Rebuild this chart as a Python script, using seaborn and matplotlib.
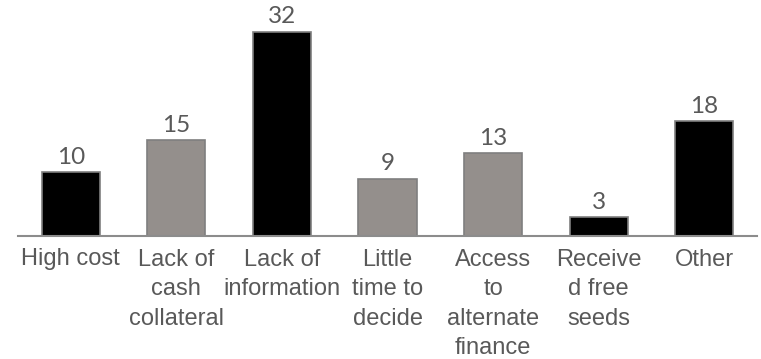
import matplotlib.pyplot as plt
import seaborn as sns
import pandas as pd

sns.set_theme(style="white")
plt.rcParams["font.family"] = ["Liberation Sans", "DejaVu Sans"]

# Chart data
categories = ["High cost", "Lack of\ncash\ncollateral", "Lack of\ninformation", "Little\ntime to\ndecide",
              "Access\nto\nalternate\nfinance", "Receive\nd free\nseeds", "Other"]
values = [10, 15, 32, 9, 13, 3, 18]
bar_colors = ["#000000", "#948f8c", "#000000", "#948f8c", "#948f8c", "#000000", "#000000"]

df = pd.DataFrame({"Reason": categories, "Count": values})

fig = plt.figure(figsize=(7.61, 3.59), dpi=100)
ax = fig.add_axes([18 / 761, 123 / 359, 739 / 761, 230 / 359])

sns.barplot(df, x="Reason", y="Count", hue="Reason", palette=bar_colors, legend=False,
            width=0.55, edgecolor="#7f7f7f", linewidth=1.2, saturation=1, ax=ax)

# Value labels above bars
for container in ax.containers:
    ax.bar_label(container, padding=3, fontsize=17.5, color="#595959", family=["Lato", "DejaVu Sans"])

ax.set_xlim(-0.5, 6.5)
ax.set_ylim(0, 36)
ax.set_xlabel("")
ax.set_ylabel("")
ax.set_yticks([])
for side in ["top", "right", "left"]:
    ax.spines[side].set_visible(False)
ax.spines["bottom"].set_color("#8c8c8c")
ax.spines["bottom"].set_linewidth(1.5)
ax.tick_params(axis="x", length=0, pad=9, labelsize=17, labelcolor="#595959")
for label in ax.get_xticklabels():
    label.set_verticalalignment("top")
    label.set_multialignment("center")
    label.set_linespacing(1.45)

plt.savefig("out.png", dpi=100)
